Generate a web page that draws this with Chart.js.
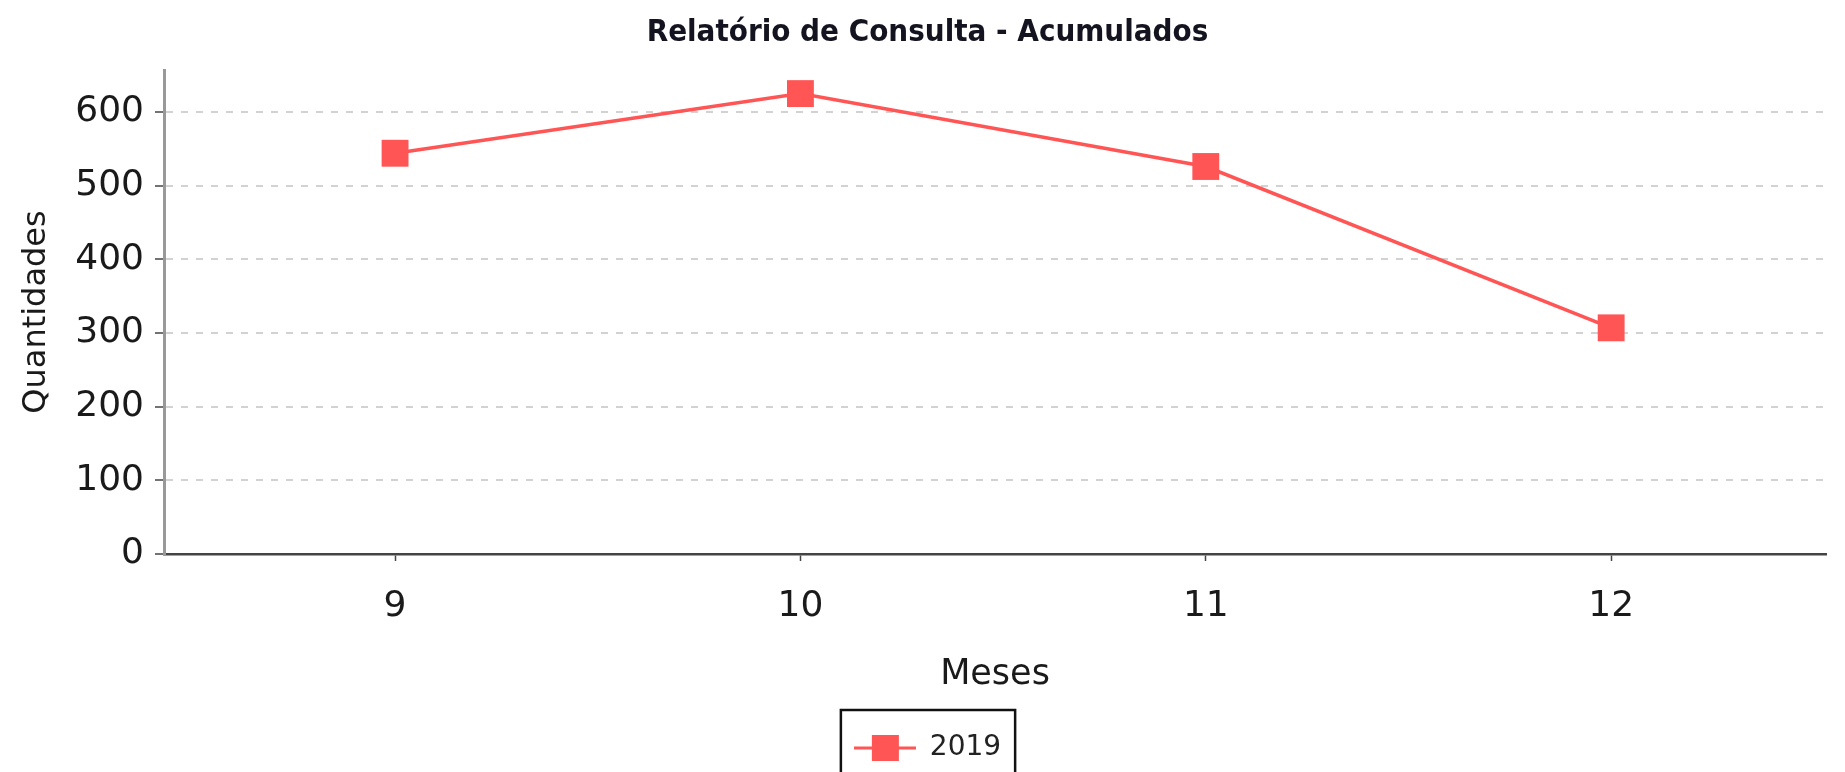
<!DOCTYPE html>
<html lang="pt">
  <head>
    <meta charset="UTF-8" />
    <title>Relatório de Consulta - Acumulados</title>
    <script src="https://cdn.jsdelivr.net/npm/chart.js"></script>
    <style>
      html, body { margin: 0; padding: 0; background: #fff; }
      #wrap { width: 1845px; height: 772px; }
    </style>
  </head>
  <body>
    <div id="wrap"><canvas id="myChart" width="1845" height="772"></canvas></div>
    <script>
      // dados
      const meses = [9, 10, 11, 12];
      const quantidades2019 = [544, 625, 526, 307];
      const serieNome = "2019";
      const yTicks = [0, 100, 200, 300, 400, 500, 600];

      const cor = "#ff5555";

      // simbolo da legenda: linha + quadrado
      function legendSymbol() {
        const c = document.createElement("canvas");
        c.width = 62;
        c.height = 26;
        const g = c.getContext("2d");
        g.strokeStyle = cor;
        g.lineWidth = 3;
        g.beginPath();
        g.moveTo(0, 13);
        g.lineTo(62, 13);
        g.stroke();
        g.fillStyle = cor;
        g.fillRect(18, 0, 27, 26);
        return c;
      }

      // moldura preta em volta da legenda
      const legendBorder = {
        id: "legendBorder",
        afterDraw(chart) {
          const lg = chart.legend;
          if (!lg || !lg.legendHitBoxes.length) return;
          const hb = lg.legendHitBoxes[0];
          const ctx = chart.ctx;
          ctx.save();
          ctx.strokeStyle = "#111";
          ctx.lineWidth = 2.5;
          ctx.strokeRect(hb.left - 13, lg.top - 6, hb.width + 27, 90);
          ctx.restore();
        },
      };

      const ctx = document.getElementById("myChart");
      new Chart(ctx, {
        type: "line",
        data: {
          datasets: [
            {
              label: serieNome,
              data: meses.map((m, i) => ({ x: m, y: quantidades2019[i] })),
              borderColor: cor,
              backgroundColor: cor,
              borderWidth: 3.5,
              pointStyle: "rect",
              pointRadius: 19,
              pointHoverRadius: 19,
              pointBorderWidth: 0,
              tension: 0,
            },
          ],
        },
        options: {
          responsive: false,
          animation: false,
          devicePixelRatio: 1,
          layout: { padding: { top: 0, right: 0, bottom: 0, left: 10 } },
          plugins: {
            tooltip: { enabled: false },
            title: {
              display: true,
              text: "Relatório de Consulta - Acumulados",
              color: "#141420",
              font: { family: "DejaVu Sans Condensed, DejaVu Sans", size: 31, weight: "bold" },
              padding: { top: 14, bottom: 18.8 },
            },
            legend: {
              position: "bottom",
              labels: {
                usePointStyle: true,
                pointStyle: legendSymbol(),
                pointStyleWidth: 62,
                padding: 18,
                color: "#222",
                font: { family: "DejaVu Sans", size: 28 },
              },
            },
          },
          scales: {
            x: {
              type: "linear",
              min: 8.43,
              max: 12.53,
              afterFit: (s) => { s.height = 162; },
              ticks: {
                stepSize: 1,
                includeBounds: false,
                color: "#1a1a1a",
                padding: 24.5,
                font: { family: "DejaVu Sans", size: 36 },
              },
              grid: { drawOnChartArea: false, drawTicks: true, tickLength: 7, tickColor: "#444", tickWidth: 1.5 },
              border: { display: true, color: "#444", width: 2.5 },
              title: {
                display: true,
                text: "Meses",
                color: "#1a1a1a",
                font: { family: "DejaVu Sans", size: 35 },
                padding: { top: 0, bottom: 20 },
              },
            },
            y: {
              min: 0,
              max: 657,
              afterFit: (s) => { s.width = 154; },
              afterBuildTicks: (s) => { s.ticks = yTicks.map((v) => ({ value: v })); },
              ticks: {
                stepSize: 100,
                includeBounds: false,
                color: "#1a1a1a",
                padding: 11,
                font: { family: "DejaVu Sans", size: 36 },
              },
              grid: {
                color: "#d2d2d2",
                lineWidth: 2,
                drawTicks: true,
                tickLength: 9,
                tickColor: "#444",
                tickWidth: 1.5,
                tickBorderDash: [],
              },
              border: { display: true, color: "#999", width: 3, dash: [7, 8] },
              title: {
                display: true,
                text: "Quantidades",
                color: "#1a1a1a",
                font: { family: "DejaVu Sans", size: 32 },
                padding: { top: 7, bottom: 0 },
              },
            },
          },
        },
        plugins: [legendBorder],
      });
    </script>
  </body>
</html>
